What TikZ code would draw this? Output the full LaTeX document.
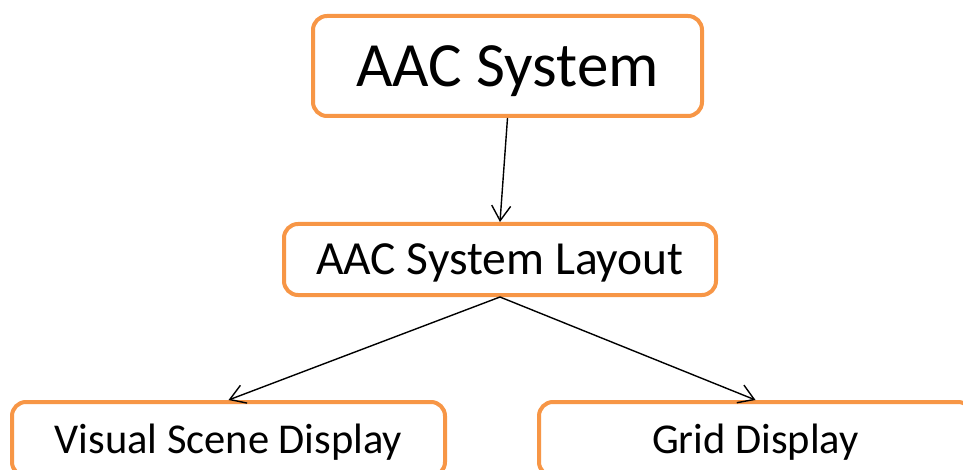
\documentclass[tikz,border=0pt]{standalone}
\usepackage{fontspec}
\setmainfont{Carlito}
\usetikzlibrary{arrows.meta}
\definecolor{boxorange}{HTML}{F79646}
\tikzset{
  obox/.style={draw=boxorange, line width=4pt, rounded corners=14pt, fill=white,
    inner sep=0pt, align=center, text depth=0pt},
  conn/.style={line width=1.4pt, -{Straight Barb[length=15pt,width=19pt,line width=1.4pt]}}
}
\begin{document}
\begin{tikzpicture}[x=1pt,y=-1pt]
\clip (0,0) rectangle (963,470);
\useasboundingbox (0,0) rectangle (963,470);
\node[obox, minimum width=389pt, minimum height=100pt, font=\fontsize{63}{70}\selectfont] (sys) at (507.5,66) {AAC System};
\node[obox, minimum width=432pt, minimum height=71pt, font=\fontsize{47.5}{52}\selectfont] (lay) at (500,259.5) {AAC System Layout};
\node[obox, minimum width=433pt, minimum height=74pt, font=\fontsize{42.5}{48}\selectfont] (vsd) at (228.5,439) {Visual Scene Display};
\node[obox, minimum width=433pt, minimum height=74pt, font=\fontsize{42.5}{48}\selectfont] (grid) at (755.5,439) {Grid Display};
\draw[conn] (sys.south) -- (lay.north);
\draw[conn] (lay.south) -- (vsd.north);
\draw[conn] (lay.south) -- (grid.north);
\end{tikzpicture}
\end{document}
